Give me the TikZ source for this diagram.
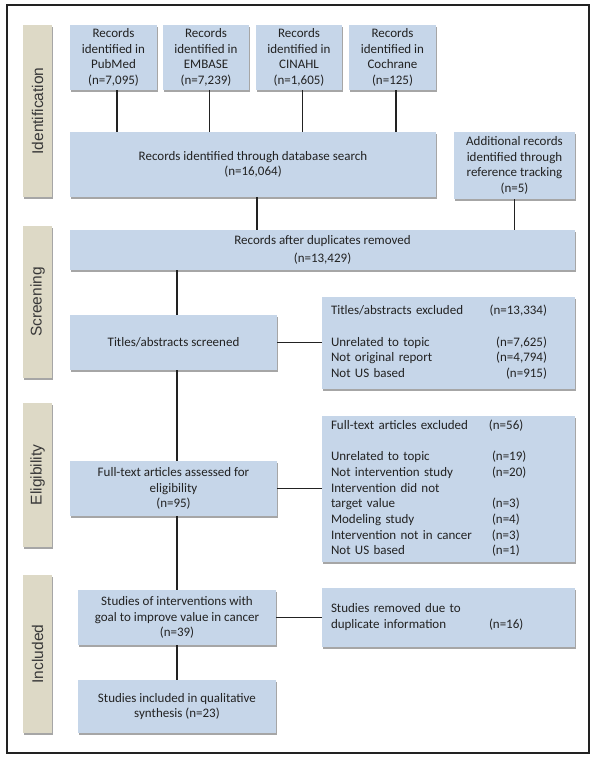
\documentclass[tikz,border=0pt]{standalone}
\usepackage{fontspec}
\setmainfont{Carlito}
\setsansfont{Liberation Sans}
\usetikzlibrary{shadows}
\definecolor{boxblue}{HTML}{C6D6E9}
\definecolor{phasetan}{HTML}{DDD9C6}
\definecolor{ink}{HTML}{222222}
\begin{document}
\begin{tikzpicture}[x=1pt,y=-1pt,
  boxshadow/.style={drop shadow={shadow xshift=0.8pt,shadow yshift=-1.6pt,opacity=0.35,fill=black}},
  box/.style={fill=boxblue,draw=none,inner sep=0pt,text=ink,align=center,
    font=\fontsize{13}{15.7}\selectfont,boxshadow},
  listbox/.style={box,inner xsep=9pt,align=left},
  phase/.style={fill=phasetan,draw=none,inner sep=0pt,minimum width=29pt,text=ink!90,
    font=\sffamily\fontsize{15.5}{18}\selectfont,boxshadow},
  link/.style={draw=ink,line width=1.3pt}
]
\fill[white] (0,0) rectangle (597,762);
\useasboundingbox (0,0) rectangle (597,762);
\draw[ink,line width=1.2pt,fill=white,drop shadow={shadow xshift=1.2pt,shadow yshift=-1.2pt,opacity=0.3,fill=black}] (7,5) rectangle (589,753);

% phase bars
\node[phase,minimum height=172pt] (pid) at (37.5,111) {\rotatebox{90}{Identification}};
\node[phase,minimum height=152pt] (pscr) at (37.5,302) {\rotatebox{90}{Screening}};
\node[phase,minimum height=144pt] (pel) at (37.5,475) {\rotatebox{90}{Eligibility}};
\node[phase,minimum height=158pt] (pinc) at (37.5,654) {\rotatebox{90}{Included}};

% boxes
\node[box,minimum width=87pt,minimum height=65pt] (pub) at (113.5,57.5) {Records\\identified in\\PubMed\\(n=7,095)};
\node[box,minimum width=86pt,minimum height=65pt] (emb) at (206,57.5) {Records\\identified in\\EMBASE\\(n=7,239)};
\node[box,minimum width=86pt,minimum height=65pt] (cin) at (299,57.5) {Records\\identified in\\CINAHL\\(n=1,605)};
\node[box,minimum width=87pt,minimum height=65pt] (coc) at (392.5,57.5) {Records\\identified in\\Cochrane\\(n=125)};
\node[box,minimum width=366pt,minimum height=65pt] (search) at (253,164.5) {Records identified through database search\\(n=16,064)};
\node[box,minimum width=121pt,minimum height=67pt] (add) at (514.5,165.5) {Additional records\\identified through\\reference tracking\\(n=5)};
\node[box,minimum width=505pt,minimum height=40pt] (dup) at (322.5,250) {Records after duplicates removed\\[3pt](n=13,429)};
\node[box,minimum width=207pt,minimum height=55pt] (scr) at (173.5,342.5) {Titles/abstracts screened};
\node[listbox,text width=235pt,minimum height=92pt] (scrx) at (448.5,343) {%
  \begin{tabular*}{216pt}{@{}l@{\extracolsep{\fill}}r@{}}
  Titles/abstracts excluded & (n=13,334)\\
  & \\
  Unrelated to topic & (n=7,625)\\
  Not original report & (n=4,794)\\
  Not US based & (n=915)
  \end{tabular*}};
\node[box,minimum width=207pt,minimum height=55pt] (ft) at (173.5,488.5) {Full-text articles assessed for\\eligibility\\(n=95)};
\node[listbox,text width=235pt,minimum height=146pt] (ftx) at (448.5,489) {%
  \begin{tabular}{@{}p{161pt}@{}l@{}}
  Full-text articles excluded & \hspace*{-3pt}(n=56)\\
  & \\
  Unrelated to topic & (n=19)\\
  Not intervention study & (n=20)\\
  Intervention did not & \\
  target value & (n=3)\\
  Modeling study & (n=4)\\
  Intervention not in cancer & (n=3)\\
  Not US based & (n=1)
  \end{tabular}};
\node[box,minimum width=198pt,minimum height=55pt] (stu) at (177,617.5) {Studies of interventions with\\goal to improve value in cancer\\(n=39)};
\node[listbox,text width=235pt,minimum height=59pt] (rem) at (448.5,617.5) {%
  \begin{tabular}{@{}p{158pt}@{}l@{}}
  Studies removed due to & \\
  duplicate information & (n=16)
  \end{tabular}};
\node[box,minimum width=198pt,minimum height=53pt] (inc) at (177,706.5) {Studies included in qualitative\\synthesis (n=23)};

% connectors
\foreach \b in {pub,emb,cin,coc}
  \draw[link] ([xshift=3.5pt]\b.south) -- ([xshift=3.5pt]\b.south |- search.north);
\draw[link] ([xshift=4pt]search.south) -- ([xshift=4pt]search.south |- dup.north);
\draw[link] (add.south) -- (add.south |- dup.north);
\draw[link] (stu.north |- dup.south) -- (stu.north |- scr.north);
\draw[link] (stu.north |- scr.south) -- (stu.north |- ft.north);
\draw[link] (stu.north |- ft.south) -- (stu.north);
\draw[link] (stu.south) -- (inc.north);
\draw[link] (scr.east) -- (scr.east -| scrx.west);
\draw[link] (ft.east) -- (ft.east -| ftx.west);
\draw[link] (stu.east) -- (stu.east -| rem.west);
\end{tikzpicture}
\end{document}
